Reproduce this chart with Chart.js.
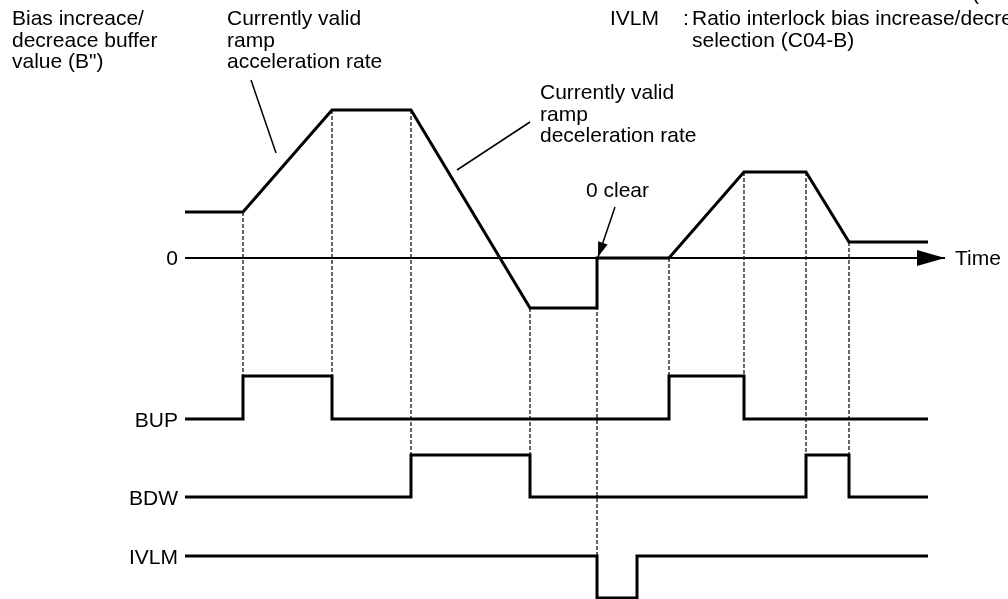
<!DOCTYPE html>
<html>
<head>
<meta charset="utf-8">
<script src="https://cdn.jsdelivr.net/npm/chart.js@4/dist/chart.umd.min.js"></script>
<style>
  html, body { margin: 0; padding: 0; background: #fff; }
  #wrap { width: 1008px; height: 599px; }
</style>
</head>
<body>
<div id="wrap"><canvas id="myChart" width="1008" height="599"></canvas></div>
<script>
"use strict";

/* timing diagram: bias increase/decrease buffer value and the BUP/BDW/IVLM signals
   time in diagram steps, values in diagram units */

// buffer value B"
const biasT = [0, 5.8, 14.7, 22.6, 34.5, 41.2, 41.2, 48.4, 55.9, 62.1, 66.4, 74.3];
const biasV = [4.6, 4.6, 14.8, 14.8, -5.0, -5.0, 0, 0, 8.6, 8.6, 1.6, 1.6];

// digital signals (state 0/1, change at given time)
const bupT = [0, 5.8, 14.7, 48.4, 55.9, 74.3];
const bupS = [0, 1, 0, 1, 0, 0];
const bdwT = [0, 22.6, 34.5, 62.1, 66.4, 74.3];
const bdwS = [0, 1, 0, 1, 0, 0];
const ivlmT = [0, 41.2, 45.2, 74.3];
const ivlmS = [1, 0, 1, 1];

// dashed guides: time and the signal they drop down to
const guideT = [5.8, 14.7, 22.6, 34.5, 41.2, 48.4, 55.9, 62.1, 66.4];
const guideTo = ["BUP", "BUP", "BDW", "BDW", "IVLM", "BUP", "BUP", "BDW", "BDW"];

// time axis
const axisT = [0, 76];

// leader lines of the notes
const accelLead = [[6.6, 17.8], [9.1, 10.5]];
const decelLead = [[34.5, 13.6], [27.2, 8.8]];
const clearLead = [[43.0, 5.1], [41.3, 0.1]];

const signalNames = ["BUP", "BDW", "IVLM"];

// where each signal sits below the B" graph (low level, high level)
const lanes = {
    BUP: [-16.1, -11.8],
    BDW: [-23.9, -19.7],
    IVLM: [-34.0, -29.8]
};

function level(name, s){
    return lanes[name][0] + s * (lanes[name][1] - lanes[name][0]);
}

function pts(ts, vs){
    return ts.map((t, i) => ({x: t, y: vs[i]}));
}

const datasets = [];

datasets.push({
    label: 'B"',
    data: pts(biasT, biasV),
    borderColor: "#000",
    borderWidth: 3,
    borderJoinStyle: "miter",
    order: 1
});

[["BUP", bupT, bupS], ["BDW", bdwT, bdwS], ["IVLM", ivlmT, ivlmS]].forEach(([name, ts, ss]) => {
    datasets.push({
        label: name,
        data: ts.map((t, i) => ({x: t, y: level(name, ss[i])})),
        stepped: "before",
        borderColor: "#000",
        borderWidth: 3,
        borderJoinStyle: "miter",
        order: 1
    });
});

datasets.push({
    label: "axis",
    data: axisT.map(t => ({x: t, y: 0})),
    borderColor: "#000",
    borderWidth: 2,
    arrowHead: [28, 8],
    order: 2
});

// each guide runs from the B" curve down to the high level of its signal
guideT.forEach((t, i) => {
    const top = biasV[biasT.lastIndexOf(t)];
    const bottom = level(guideTo[i], 1);
    datasets.push({
        label: "guide",
        data: [{x: t, y: top}, {x: t, y: bottom}],
        borderColor: "#000",
        borderWidth: 1.2,
        borderDash: [4, 2],
        order: 3
    });
});

[[accelLead, null], [decelLead, null], [clearLead, [15, 5]]].forEach(([lead, head]) => {
    datasets.push({
        label: "lead",
        data: lead.map(p => ({x: p[0], y: p[1]})),
        borderColor: "#000",
        borderWidth: 1.5,
        arrowHead: head,
        order: 2
    });
});

const FONT = '21px "Liberation Sans", Arial, sans-serif';

const notes = [
    {x: 12, y: 25, lines: ["Bias increace/", "decreace buffer", 'value (B")']},
    {x: 227, y: 25, lines: ["Currently valid", "ramp", "acceleration rate"]},
    {x: 540, y: 99, lines: ["Currently valid", "ramp", "deceleration rate"]},
    {x: 610, y: 25, lines: ["IVLM"]},
    {x: 683, y: 25, lines: [":"]},
    {x: 692, y: 25, lines: ["Ratio interlock bias increase/decrease", "selection (C04-B)"]},
    {x: 972, y: 0, lines: ["("]}
];

const annotate = {
    id: "annotate",
    afterDatasetsDraw(chart){
        const ctx = chart.ctx;
        const xs = chart.scales.x, ys = chart.scales.y;

        // arrow heads at the end of flagged lines
        chart.data.datasets.forEach((ds, i) => {
            if (!ds.arrowHead) return;
            const el = chart.getDatasetMeta(i).data;
            const a = el[el.length - 2], b = el[el.length - 1];
            const ang = Math.atan2(b.y - a.y, b.x - a.x);
            ctx.save();
            ctx.translate(b.x, b.y);
            ctx.rotate(ang);
            ctx.beginPath();
            ctx.moveTo(0, 0);
            ctx.lineTo(-ds.arrowHead[0], -ds.arrowHead[1]);
            ctx.lineTo(-ds.arrowHead[0], ds.arrowHead[1]);
            ctx.closePath();
            ctx.fillStyle = "#000";
            ctx.fill();
            ctx.restore();
        });

        ctx.save();
        ctx.font = FONT;
        ctx.fillStyle = "#000";

        // notes
        ctx.textAlign = "left";
        ctx.textBaseline = "alphabetic";
        notes.forEach(n => {
            n.lines.forEach((s, k) => ctx.fillText(s, n.x, n.y + k * 21.5));
        });

        // "0 clear" above its arrow
        ctx.fillText("0 clear", xs.getPixelForValue(clearLead[0][0]) - 29, ys.getPixelForValue(clearLead[0][1]) - 10);

        // left labels
        ctx.textAlign = "right";
        ctx.textBaseline = "middle";
        const x0 = xs.getPixelForValue(0) - 7;
        ctx.fillText("0", x0, ys.getPixelForValue(0) + 1);
        signalNames.forEach(name => {
            const s = name === "IVLM" ? 1 : 0;
            ctx.fillText(name, x0, ys.getPixelForValue(level(name, s)) + 2);
        });

        // axis label
        ctx.textAlign = "left";
        ctx.fillText("Time", xs.getPixelForValue(axisT[1]) + 10, ys.getPixelForValue(0) + 1);
        ctx.restore();
    }
};

const myChart = new Chart(document.getElementById("myChart"), {
    type: "line",
    data: {datasets: datasets},
    options: {
        responsive: false,
        animation: false,
        events: [],
        layout: {padding: 0},
        elements: {
            point: {radius: 0},
            line: {tension: 0, fill: false, borderCapStyle: "butt"}
        },
        scales: {
            x: {type: "linear", min: -18.5, max: 82.3, display: false},
            y: {type: "linear", min: -34.1, max: 25.8, display: false}
        },
        plugins: {
            legend: {display: false},
            tooltip: {enabled: false}
        }
    },
    plugins: [annotate]
});
</script>
</body>
</html>
